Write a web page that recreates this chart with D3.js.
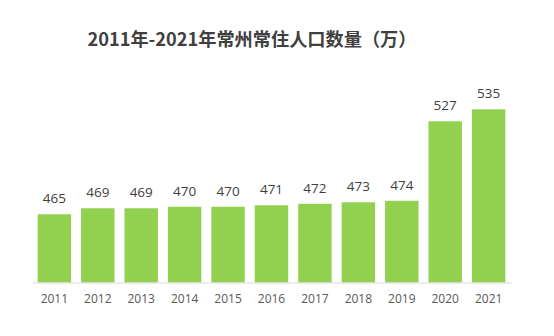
<!DOCTYPE html>
<html><head><meta charset="utf-8">
<script src="https://cdn.jsdelivr.net/npm/d3@7"></script>
<style>body{margin:0;background:#fff}svg{display:block}</style>
</head><body>
<script>
const categories = ["2011","2012","2013","2014","2015","2016","2017","2018","2019","2020","2021"];
const values = [465,469,469,470,470,471,472,473,474,527,535];
const title = "2011年-2021年常州常住人口数量（万）";

const W = 554, H = 336;
const svg = d3.select("body").append("svg").attr("width", W).attr("height", H);
svg.append("rect").attr("width", W).attr("height", H).attr("fill", "#fff");

const x = d3.scaleBand().domain(categories).range([32, 511]).paddingInner(0.23).paddingOuter(0.13);
const y = d3.scaleLinear().domain([419.5, 535]).range([282.5, 109.3]);

svg.append("text").attr("x", 252).attr("y", 46).attr("text-anchor", "middle")
  .attr("font-family", "'Noto Sans CJK SC', sans-serif").attr("font-weight", "bold")
  .attr("font-size", 18.2).attr("fill", "#404040").text(title);

svg.selectAll("rect.bar").data(values).join("rect").attr("class", "bar")
  .attr("x", (d, i) => x(categories[i])).attr("width", x.bandwidth())
  .attr("y", d => y(d)).attr("height", d => y.range()[0] - y(d))
  .attr("fill", "#92D050");

svg.selectAll("text.val").data(values).join("text").attr("class", "val")
  .attr("x", (d, i) => x(categories[i]) + x.bandwidth() / 2)
  .attr("y", d => y(d) - 11).attr("text-anchor", "middle")
  .attr("font-family", "'Open Sans', sans-serif").attr("font-size", 13.5)
  .attr("fill", "#404040").text(d => d);

const axis = svg.append("g").attr("transform", "translate(0,282.5)")
  .call(d3.axisBottom(x).tickSize(0).tickPadding(12));
axis.select(".domain").attr("stroke", "#d9d9d9");
axis.selectAll("text").attr("font-family", "'Open Sans', sans-serif").attr("font-size", 12).attr("fill", "#595959");
</script>
</body></html>
